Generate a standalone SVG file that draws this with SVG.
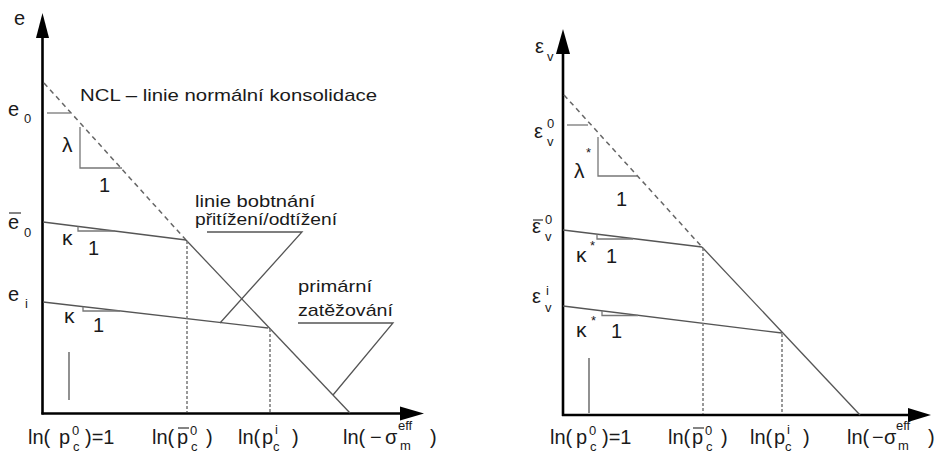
<svg xmlns="http://www.w3.org/2000/svg" width="944" height="455" viewBox="0 0 944 455">
<style>
text{font-family:"Liberation Sans",Arial,sans-serif;fill:#1a1a1a}
.t{font-size:17px}
.b{font-size:20px}
.s{font-size:13px}
.g{font-size:21px}
.axis{stroke:#000;stroke-width:2.6;fill:none}
.ln{stroke:#555;stroke-width:1.3;fill:none}
.dash{stroke:#666;stroke-width:1.5;fill:none;stroke-dasharray:5 4}
.dot{stroke:#777;stroke-width:1.5;fill:none;stroke-dasharray:3 2}
.tri{stroke:#777;stroke-width:1.3;fill:none}
.ah{fill:#000}
.ov{stroke:#333;stroke-width:1.2}
</style>
<rect width="944" height="455" fill="#fff"/>

<g id="left-chart">
 <g id="left-axes">
  <line class="axis" x1="42.5" y1="36" x2="42.5" y2="414.5"/>
  <polygon class="ah" points="42.5,13 36,38 49,38"/>
  <line class="axis" x1="41.5" y1="413.5" x2="402" y2="413.5"/>
  <polygon class="ah" points="424,413.5 400,406.5 400,420.5"/>
 </g>
 <g id="left-connectors">
  <line class="dash" x1="44" y1="83" x2="186" y2="240"/>
  <line class="ln" x1="186" y1="240" x2="350" y2="413"/>
  <line class="ln" x1="43" y1="222" x2="186" y2="240"/>
  <line class="ln" x1="43" y1="302" x2="268" y2="328"/>
  <line class="dot" x1="187" y1="241" x2="187" y2="412"/>
  <line class="dot" x1="270" y1="329" x2="270" y2="412"/>
  <line class="ln" x1="69" y1="352" x2="69" y2="400"/>
  <line class="tri" x1="47" y1="113" x2="70" y2="113"/>
  <polyline class="tri" points="80,127 80,168 122,168"/>
  <polyline class="tri" points="78,226.5 78,231 115,231"/>
  <polyline class="tri" points="83,306.7 83,311 120,311"/>
  <polyline class="ln" points="207,232 302,232 220,323"/>
  <polyline class="ln" points="298,323 393,323 333,395"/>
 </g>
 <g id="left-labels">
  <text class="b" x="14" y="25">e</text>
  <text class="b" x="8" y="116">e</text><text class="s" x="24" y="123">0</text>
  <text class="b" x="8" y="229">e</text><text class="s" x="24" y="237">0</text>
  <line class="ov" x1="9" y1="213" x2="21" y2="213"/>
  <text class="b" x="8" y="301">e</text><text class="s" x="25" y="308">i</text>
  <text class="g" x="62" y="152">λ</text>
  <text class="b" x="99" y="192">1</text>
  <text class="g" x="62" y="245">κ</text>
  <text class="b" x="88" y="255">1</text>
  <text class="g" x="64" y="323">κ</text>
  <text class="b" x="93" y="332">1</text>
  <text class="t" x="80" y="101" textLength="297" lengthAdjust="spacingAndGlyphs">NCL – linie normální konsolidace</text>
  <text class="t" x="195" y="207" textLength="120" lengthAdjust="spacingAndGlyphs">linie bobtnání</text>
  <text class="t" x="195" y="225" textLength="142" lengthAdjust="spacingAndGlyphs">přitížení/odtížení</text>
  <text class="t" x="298" y="292" textLength="74" lengthAdjust="spacingAndGlyphs">primární</text>
  <text class="t" x="298" y="316" textLength="95" lengthAdjust="spacingAndGlyphs">zatěžování</text>
  <text class="b" y="444"><tspan x="28">ln(</tspan><tspan x="59">p</tspan><tspan x="85">)=1</tspan></text>
  <text class="s" x="72" y="435">0</text><text class="s" x="73" y="451">c</text>
  <text class="b" y="444"><tspan x="152">ln(</tspan><tspan x="177">p</tspan><tspan x="206">)</tspan></text>
  <line class="ov" x1="178" y1="428" x2="189" y2="428"/>
  <text class="s" x="190" y="435">0</text><text class="s" x="191" y="451">c</text>
  <text class="b" y="444"><tspan x="238">ln(</tspan><tspan x="262">p</tspan><tspan x="292">)</tspan></text>
  <text class="s" x="275" y="434">i</text><text class="s" x="273" y="451">c</text>
  <text class="b" y="444"><tspan x="343">ln(</tspan><tspan x="370">−</tspan><tspan x="385">σ</tspan><tspan x="430">)</tspan></text>
  <text class="s" x="398" y="430">eff</text><text class="s" x="400" y="450">m</text>
 </g>
</g>

<g id="right-chart">
 <g id="right-axes">
  <line class="axis" x1="563" y1="52" x2="563" y2="416"/>
  <polygon class="ah" points="563,29 556,54 570,54"/>
  <line class="axis" x1="562" y1="415" x2="910" y2="415"/>
  <polygon class="ah" points="931,415 908,408 908,422"/>
 </g>
 <g id="right-connectors">
  <line class="dash" x1="564" y1="95" x2="702" y2="247"/>
  <line class="ln" x1="702" y1="247" x2="860" y2="415"/>
  <line class="ln" x1="563" y1="230" x2="702" y2="247"/>
  <line class="ln" x1="563" y1="306" x2="782" y2="333"/>
  <line class="dot" x1="703" y1="248" x2="703" y2="414"/>
  <line class="dot" x1="782" y1="334" x2="782" y2="414"/>
  <line class="ln" x1="589" y1="358" x2="589" y2="413"/>
  <line class="tri" x1="567" y1="125" x2="588" y2="125"/>
  <polyline class="tri" points="598,137 598,176 637,176"/>
  <polyline class="tri" points="597,234.2 597,239 633,239"/>
  <polyline class="tri" points="602,310.8 602,315.5 638,315.5"/>
 </g>
 <g id="right-labels">
  <text class="b" x="535" y="53">ε</text><text class="s" x="547" y="61">v</text>
  <text class="b" x="534" y="138">ε</text><text class="s" x="547" y="128">0</text><text class="s" x="547" y="146">v</text>
  <text class="b" x="532" y="233">ε</text><text class="s" x="545" y="224">0</text><text class="s" x="545" y="241">v</text>
  <line class="ov" x1="533" y1="220" x2="543" y2="220"/>
  <text class="b" x="532" y="303">ε</text><text class="s" x="546" y="295">i</text><text class="s" x="545" y="312">v</text>
  <text class="g" x="574" y="178">λ</text><text class="s" x="586" y="157">*</text>
  <text class="b" x="616" y="206">1</text>
  <text class="g" x="576" y="262">κ</text><text class="s" x="590" y="250">*</text>
  <text class="b" x="606" y="263">1</text>
  <text class="g" x="576" y="337">κ</text><text class="s" x="591" y="325">*</text>
  <text class="b" x="611" y="338">1</text>
  <text class="b" y="444"><tspan x="550">ln(</tspan><tspan x="576">p</tspan><tspan x="602">)=1</tspan></text>
  <text class="s" x="589" y="435">0</text><text class="s" x="590" y="451">c</text>
  <text class="b" y="444"><tspan x="668">ln(</tspan><tspan x="692">p</tspan><tspan x="721">)</tspan></text>
  <line class="ov" x1="693" y1="428" x2="704" y2="428"/>
  <text class="s" x="705" y="435">0</text><text class="s" x="706" y="451">c</text>
  <text class="b" y="444"><tspan x="750">ln(</tspan><tspan x="774">p</tspan><tspan x="803">)</tspan></text>
  <text class="s" x="787" y="434">i</text><text class="s" x="785" y="451">c</text>
  <text class="b" y="444"><tspan x="847">ln(</tspan><tspan x="872">−</tspan><tspan x="884">σ</tspan><tspan x="928">)</tspan></text>
  <text class="s" x="896" y="430">eff</text><text class="s" x="898" y="450">m</text>
 </g>
</g>
</svg>
